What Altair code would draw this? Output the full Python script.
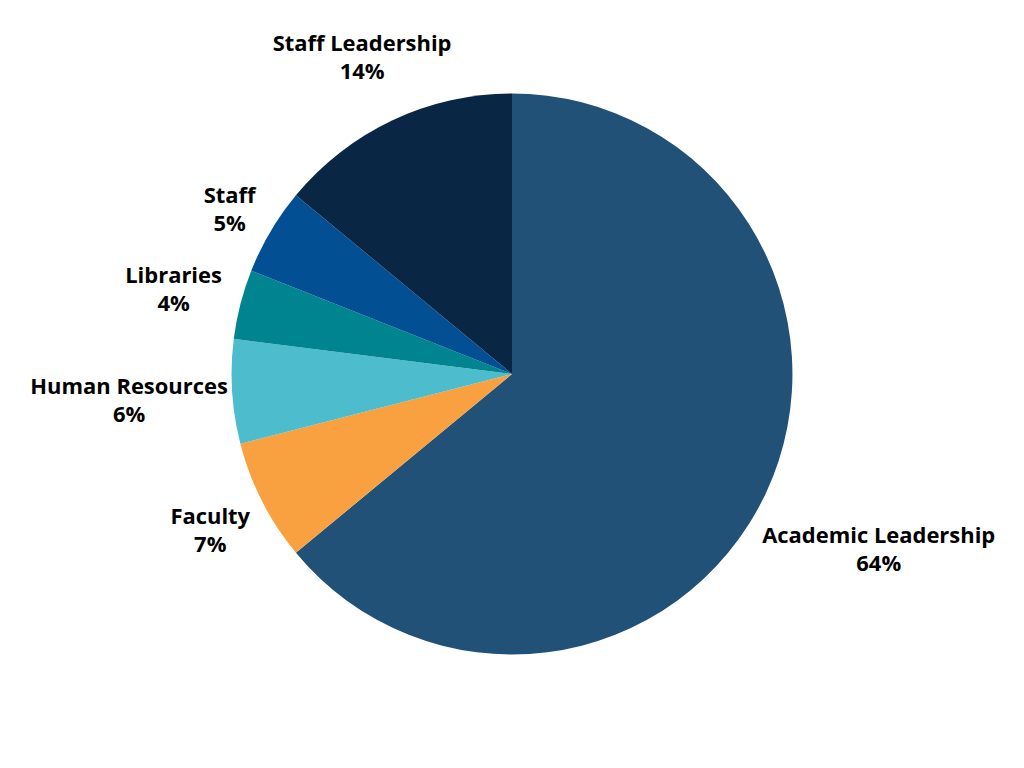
import math
import altair as alt
import pandas as pd

categories = ["Academic Leadership", "Faculty", "Human Resources",
              "Libraries", "Staff", "Staff Leadership"]
shares = [64, 7, 6, 4, 5, 14]
colors = ["#215176", "#F9A040", "#4DBCCD", "#008490", "#034F93", "#0A2645"]

pie_r = 281
total = sum(shares)

# mid angle of each slice, and a label radius pushed out by its own text box
mid_angle = []
label_r = []
start = 0
for name, v in zip(categories, shares):
    mid = 2 * math.pi * (start + v / 2) / total
    start += v
    half_w = len(name) * 12.3 / 2
    half_h = 22
    mid_angle.append(mid)
    label_r.append(pie_r + 10 + abs(math.sin(mid)) * half_w + abs(math.cos(mid)) * half_h)

df = pd.DataFrame({
    "category": categories,
    "share": shares,
    "order": list(range(len(categories))),
    "label": [f"{c}\n{v}%" for c, v in zip(categories, shares)],
    "mid": mid_angle,
    "label_r": label_r,
})

pie = alt.Chart(df).mark_arc(outerRadius=pie_r, stroke=None).encode(
    theta=alt.Theta("share:Q", stack=True),
    order=alt.Order("order:Q"),
    color=alt.Color("category:N", scale=alt.Scale(domain=categories, range=colors), legend=None),
)

labels = alt.Chart(df).mark_text(
    font="Open Sans", fontWeight="bold", fontSize=22, color="#000000",
    lineBreak="\n", lineHeight=28, align="center", baseline="middle", dy=-11,
).encode(
    theta=alt.Theta("mid:Q", scale=None),
    radius=alt.Radius("label_r:Q", scale=None),
    text="label:N",
)

chart = (pie + labels).resolve_scale(theta="independent").properties(
    width=1010, height=732, padding=0,
    autosize=alt.AutoSizeParams(type="none"),
).configure_view(stroke=None)

chart.save("out.html", embed_options={"renderer": "svg", "actions": False})
